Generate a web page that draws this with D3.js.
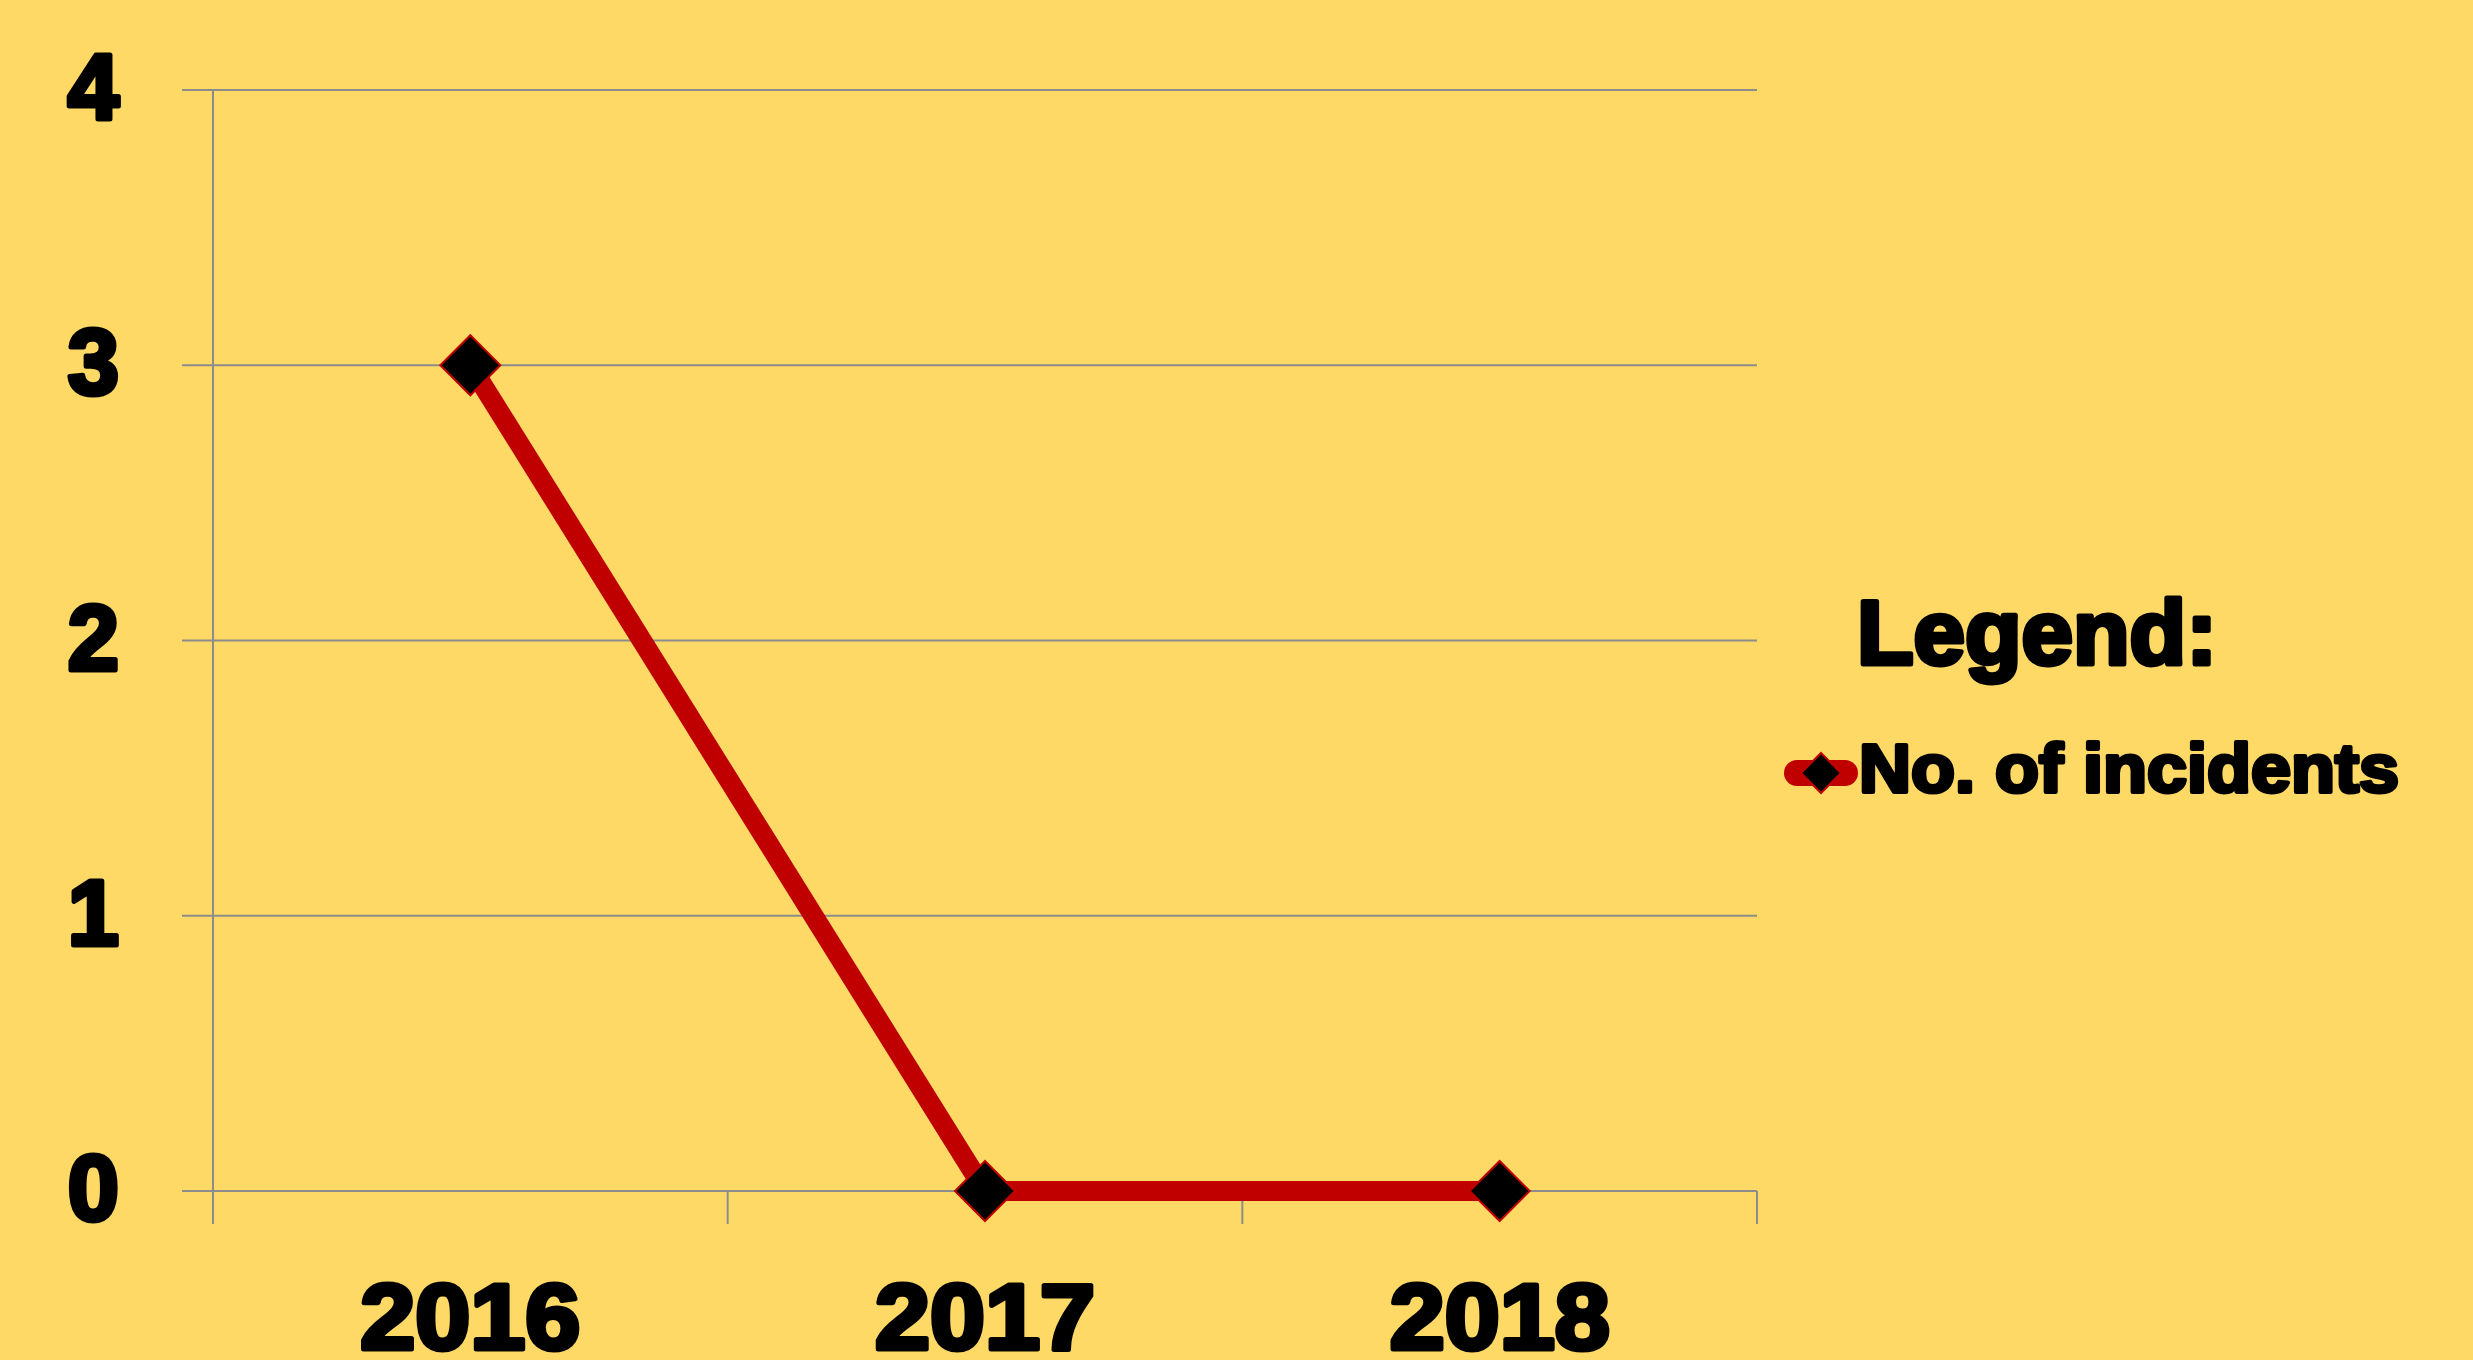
<!DOCTYPE html>
<html>
<head>
<meta charset="utf-8">
<script src="https://cdn.jsdelivr.net/npm/d3@7"></script>
<style>
  html, body { margin: 0; padding: 0; background: #FFD966; }
  svg { display: block; }
  text { font-family: "Liberation Sans", Arial, sans-serif; font-weight: bold; fill: #000; }
</style>
</head>
<body>
<script>
// Data
const years = ["2016", "2017", "2018"];
const incidents = [3, 0, 0];
const yTicks = [0, 1, 2, 3, 4];
const seriesName = "No. of incidents";
const legendTitle = "Legend:";

const W = 2473, H = 1360;
const m = { left: 213, right: 1757, top: 90, bottom: 1191 };

const svg = d3.select("body").append("svg").attr("width", W).attr("height", H);
svg.append("rect").attr("width", W).attr("height", H).attr("fill", "#FFD966");

const x = d3.scaleBand().domain(years).range([m.left, m.right]);
const y = d3.scaleLinear().domain([0, 4]).range([m.bottom, m.top]);

const grid = "#8c8c8c";
// horizontal gridlines with outward tick extensions
svg.append("g").selectAll("line").data(yTicks).join("line")
  .attr("x1", m.left - 31).attr("x2", m.right)
  .attr("y1", d => y(d)).attr("y2", d => y(d))
  .attr("stroke", grid).attr("stroke-width", 2);

// y axis line
svg.append("line").attr("x1", m.left).attr("x2", m.left)
  .attr("y1", y(4)).attr("y2", y(0) + 33)
  .attr("stroke", grid).attr("stroke-width", 2);

// x tick marks at band boundaries
const bounds = years.map(d => x(d)).concat([x(years[years.length - 1]) + x.bandwidth()]);
svg.append("g").selectAll("line").data(bounds.slice(1)).join("line")
  .attr("x1", d => d).attr("x2", d => d)
  .attr("y1", y(0)).attr("y2", y(0) + 33)
  .attr("stroke", grid).attr("stroke-width", 2);

// y tick labels
svg.append("g").selectAll("text").data(yTicks).join("text")
  .attr("x", 119).attr("y", d => y(d) + 29)
  .attr("text-anchor", "end")
  .attr("font-size", 92)
  .attr("stroke", "#000").attr("stroke-width", 5).attr("stroke-linejoin", "round")
  .text(d => d);

// x labels
svg.append("g").selectAll("text").data(years).join("text")
  .attr("x", d => x(d) + x.bandwidth() / 2).attr("y", 1349)
  .attr("text-anchor", "middle")
  .attr("font-size", 92)
  .attr("stroke", "#000").attr("stroke-width", 5).attr("stroke-linejoin", "round")
  .attr("textLength", 220).attr("lengthAdjust", "spacingAndGlyphs")
  .text(d => d);

// line
const pts = years.map((d, i) => [x(d) + x.bandwidth() / 2, y(incidents[i])]);
svg.append("path").datum(pts)
  .attr("d", d3.line())
  .attr("fill", "none").attr("stroke", "#C00000").attr("stroke-width", 20)
  .attr("stroke-linejoin", "round");

// diamond markers
const diamond = (cx, cy, r) => `M${cx},${cy - r}L${cx + r},${cy}L${cx},${cy + r}L${cx - r},${cy}Z`;
svg.append("g").selectAll("path").data(pts).join("path")
  .attr("d", d => diamond(d[0], d[1], 30))
  .attr("fill", "#000").attr("stroke", "#C00000").attr("stroke-width", 2);

// legend
svg.append("text").attr("x", 1857).attr("y", 664)
  .attr("font-size", 90)
  .attr("stroke", "#000").attr("stroke-width", 5).attr("stroke-linejoin", "round")
  .attr("textLength", 360).attr("lengthAdjust", "spacingAndGlyphs")
  .text(legendTitle);

svg.append("line").attr("x1", 1797).attr("x2", 1845).attr("y1", 773).attr("y2", 773)
  .attr("stroke", "#C00000").attr("stroke-width", 26).attr("stroke-linecap", "round");
svg.append("path").attr("d", diamond(1821, 773, 20))
  .attr("fill", "#000").attr("stroke", "#C00000").attr("stroke-width", 2);

svg.append("text").attr("x", 1859).attr("y", 792)
  .attr("font-size", 68)
  .attr("stroke", "#000").attr("stroke-width", 4).attr("stroke-linejoin", "round")
  .attr("textLength", 540).attr("lengthAdjust", "spacingAndGlyphs")
  .text(seriesName);
</script>
</body>
</html>
